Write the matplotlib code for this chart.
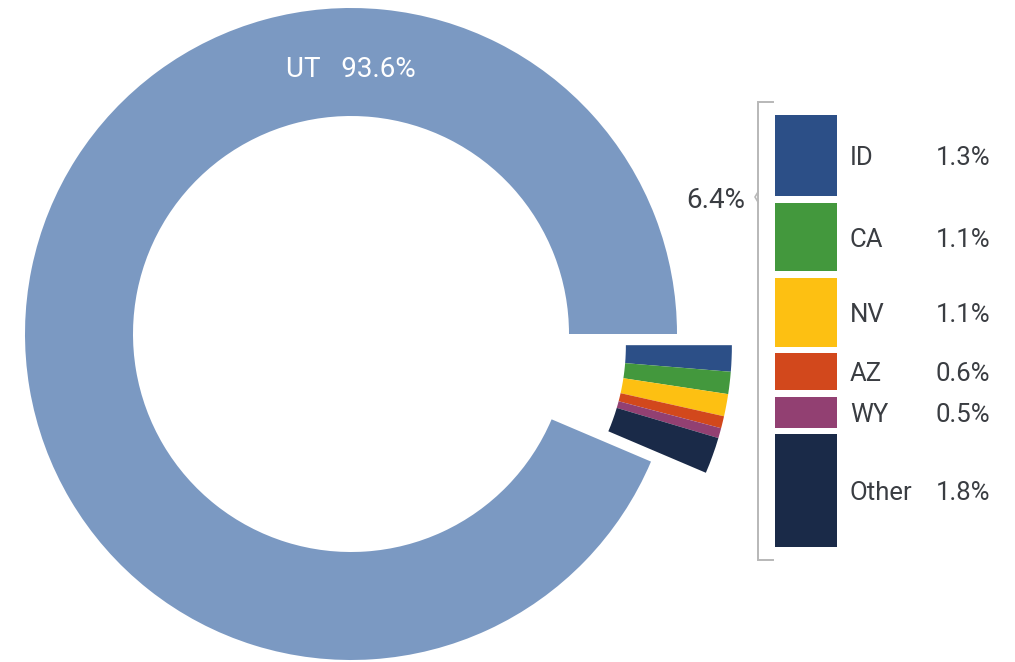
import matplotlib
matplotlib.use('Agg')
import matplotlib.pyplot as plt
import numpy as np

# ---- data ----
main_label = 'UT'
main_value = 93.6
states = ['ID', 'CA', 'NV', 'AZ', 'WY', 'Other']
state_values = [1.3, 1.1, 1.1, 0.6, 0.5, 1.8]

# ---- style ----
main_color = '#7b99c2'
state_colors = ['#2c4f87', '#43983d', '#fdc012', '#d2481c', '#924072', '#1a2a48']
text_color = '#3a3d42'
plt.rcParams['font.family'] = ['Roboto', 'DejaVu Sans']

W, H = 1015, 662
fig = plt.figure(figsize=(W / 100, H / 100), dpi=100)
ax = fig.add_axes([0, 0, 1, 1])

cx, cy = 351, H - 334
R = 326
ring = 108
small_total = sum(state_values)

# main donut wedge
ax.pie([main_value / 100], normalize=False, startangle=0, counterclock=True,
       colors=[main_color], radius=R, center=(cx, cy),
       wedgeprops=dict(width=ring, edgecolor='none'))

# exploded group of small wedges
mid = np.deg2rad(-small_total / 100 * 180)
dist = 56
ax.pie(np.array(state_values) / 100, normalize=False, startangle=0, counterclock=False,
       colors=state_colors, radius=R, center=(cx + dist * np.cos(mid), cy + dist * np.sin(mid)),
       wedgeprops=dict(width=ring - 2, edgecolor='none'))

ax.text(cx, H - 77, f'{main_label}   {main_value}%', color='white', fontsize=20,
        ha='center', va='baseline')

# stacked bar breakdown
scale = 62.5
gap = 6.4
top = H - 115
bx, bw = 806, 62
for name, v, c in zip(states, state_values, state_colors):
    h = v * scale
    ax.bar(bx, h, bottom=top - h, width=bw, color=c, edgecolor='none')
    yc = top - h / 2
    ax.text(850, yc - 9.5, name, color=text_color, fontsize=18.5, ha='left', va='baseline')
    ax.text(990, yc - 9.5, f'{v}%', color=text_color, fontsize=18.5, ha='right', va='baseline')
    top -= h + gap

# bracket
bc = '#b8b8b8'
ax.plot([773, 758, 758, 773], [H - 102, H - 102, H - 560, H - 560], color=bc, lw=1.4,
        solid_joinstyle='miter')
ax.plot([758, 755, 758], [H - 192, H - 197, H - 202], color=bc, lw=1.2)
ax.text(745, H - 207.5, f'{small_total:.1f}%', color=text_color, fontsize=20,
        ha='right', va='baseline')

ax.set_xlim(0, W)
ax.set_ylim(0, H)
ax.set_aspect('auto')
ax.axis('off')
fig.savefig('out.png', dpi=100, facecolor='white')
